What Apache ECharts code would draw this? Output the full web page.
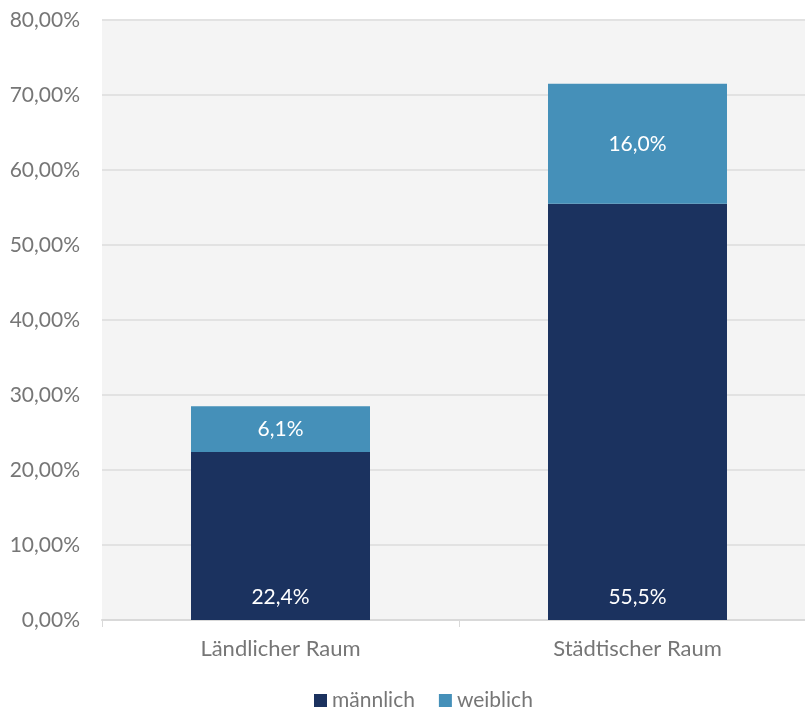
<!DOCTYPE html>
<html>
<head>
<meta charset="utf-8">
<script src="https://cdn.jsdelivr.net/npm/echarts@6/dist/echarts.min.js"></script>
<style>
  html, body { margin: 0; padding: 0; background: #fff; overflow: hidden; }
  #chart { width: 816px; height: 718px; }
</style>
</head>
<body>
<div id="chart"></div>
<script>
const categories = ["Ländlicher Raum", "Städtischer Raum"];
const maleValues = [22.4, 55.5];
const femaleValues = [6.1, 16.0];
const seriesNames = ["männlich", "weiblich"];

const textColor = "#767676";
const fontFamily = "Lato, 'Open Sans', sans-serif";

function pct(v, digits) {
  return v.toFixed(digits).replace(".", ",") + "%";
}

// plot area runs a little past the right edge of the window, as in the original
const chart = echarts.init(document.getElementById("chart"), null, { renderer: "canvas" });
const option = {
  backgroundColor: "#ffffff",
  animation: false,
  textStyle: { fontFamily: fontFamily },
  grid: {
    left: 102,
    right: 0,
    top: 20,
    bottom: 98,
    show: true,
    backgroundColor: "#f4f4f4",
    borderWidth: 0
  },
  legend: {
    bottom: 2,
    left: 309,
    itemWidth: 13,
    itemHeight: 13,
    itemGap: 24,
    icon: "rect",
    textStyle: { color: textColor, fontSize: 21, fontFamily: fontFamily },
    data: seriesNames
  },
  xAxis: {
    type: "category",
    data: categories,
    axisLine: { show: true, lineStyle: { color: "#d9d9d9", width: 2 } },
    axisTick: { show: true, length: 7, lineStyle: { color: "#d9d9d9", width: 1 } },
    axisLabel: { color: textColor, fontSize: 22, margin: 18, fontFamily: fontFamily }
  },
  yAxis: {
    type: "value",
    min: 0,
    max: 80,
    interval: 10,
    axisLine: { show: false },
    axisTick: { show: false },
    axisLabel: {
      color: textColor,
      fontSize: 21,
      margin: 22,
      fontFamily: fontFamily,
      formatter: v => pct(v, 2)
    },
    splitLine: { lineStyle: { color: "#e2e2e2", width: 2 } }
  },
  series: [
    {
      name: seriesNames[0],
      type: "bar",
      stack: "total",
      barWidth: 179,
      data: maleValues,
      itemStyle: { color: "#1b325f" },
      label: {
        show: true,
        position: "insideBottom",
        distance: 12,
        color: "#ffffff",
        fontSize: 21,
        fontFamily: fontFamily,
        formatter: p => pct(p.value, 1)
      }
    },
    {
      name: seriesNames[1],
      type: "bar",
      stack: "total",
      barWidth: 179,
      data: femaleValues,
      itemStyle: { color: "#4590b9" },
      label: {
        show: true,
        position: "inside",
        color: "#ffffff",
        fontSize: 21,
        fontFamily: fontFamily,
        formatter: p => pct(p.value, 1)
      }
    }
  ]
};
chart.setOption(option);
</script>
</body>
</html>
